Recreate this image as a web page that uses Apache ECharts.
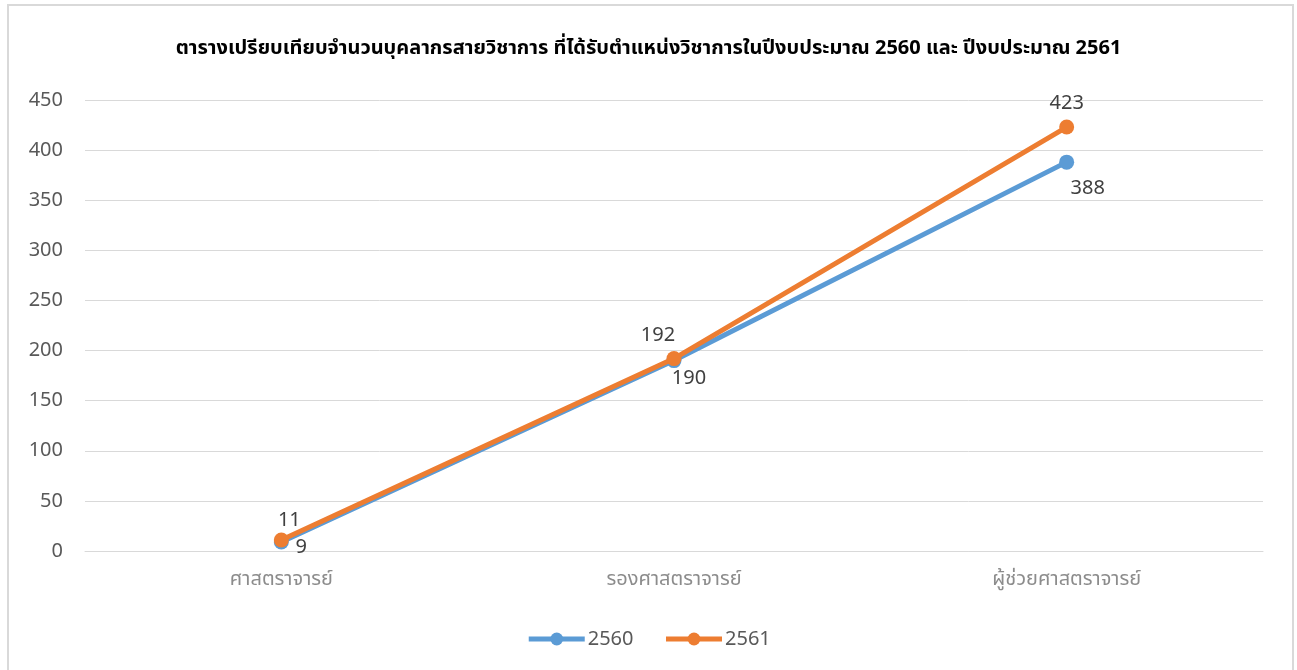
<!DOCTYPE html>
<html>
<head>
<meta charset="utf-8">
<script src="https://cdn.jsdelivr.net/npm/echarts@6/dist/echarts.min.js"></script>
<style>
html,body{margin:0;padding:0;background:#fff;}
#chart{width:1297px;height:670px;}
</style>
</head>
<body>
<div id="chart"></div>
<script>
var titleText = 'ตารางเปรียบเทียบจำนวนบุคลากรสายวิชาการ ที่ได้รับตำแหน่งวิชาการในปีงบประมาณ 2560 และ ปีงบประมาณ 2561';
var categories = ['ศาสตราจารย์', 'รองศาสตราจารย์', 'ผู้ช่วยศาสตราจารย์'];
var seriesNames = ['2560', '2561'];
var values2560 = [9, 190, 388];
var values2561 = [11, 192, 423];

// label placement style (not data)
var labelOffsets2560 = [[20, 5], [15, 18], [21, 26]];
var labelOffsets2561 = [[8, 4], [-16, 0], [0, 0]];

var FONT = '"Noto Sans", "Noto Sans Thai", "Leelawadee UI", Tahoma, "DejaVu Sans", sans-serif';

var data2560 = values2560.map(function (v, i) {
  return {value: v, label: {offset: labelOffsets2560[i]}};
});
var data2561 = values2561.map(function (v, i) {
  return {value: v, label: {offset: labelOffsets2561[i]}};
});

var chart = echarts.init(document.getElementById('chart'));
chart.setOption({
  backgroundColor: '#fff',
  animation: false,
  textStyle: {fontFamily: FONT},
  title: {
    text: titleText,
    left: 'center',
    top: 33,
    textStyle: {fontSize: 20, fontWeight: 'bold', color: '#000', fontFamily: FONT}
  },
  graphic: [{
    type: 'rect',
    shape: {x: 8, y: 5, width: 1285, height: 700},
    style: {fill: 'none', stroke: '#d9d9d9', lineWidth: 2},
    silent: true
  }],
  legend: {
    top: 624,
    left: 'center',
    itemWidth: 56,
    itemHeight: 16,
    itemGap: 30,
    lineStyle: {width: 5},
    textStyle: {fontSize: 20, color: '#595959', fontFamily: FONT, padding: [0, 0, 0, -2]},
    data: seriesNames
  },
  grid: {left: 85, right: 34, top: 100, bottom: 119, containLabel: false},
  xAxis: {
    type: 'category',
    data: categories,
    boundaryGap: true,
    axisLine: {lineStyle: {color: '#d9d9d9', width: 1}},
    axisTick: {show: false},
    axisLabel: {fontSize: 20, color: '#8c8c8c', margin: 18, fontFamily: FONT}
  },
  yAxis: {
    type: 'value',
    min: 0, max: 450, interval: 50,
    axisLine: {show: false},
    axisTick: {show: false},
    splitLine: {lineStyle: {color: '#d9d9d9', width: 1}},
    axisLabel: {fontSize: 20, color: '#595959', margin: 22, fontFamily: FONT}
  },
  series: [{
    name: seriesNames[0],
    type: 'line',
    data: data2560,
    color: '#5B9BD5',
    symbol: 'circle',
    symbolSize: 15,
    lineStyle: {width: 5, color: '#5B9BD5'},
    itemStyle: {color: '#5B9BD5'},
    label: {show: true, position: 'inside', fontSize: 20, color: '#404040', fontFamily: FONT},
    z: 2
  }, {
    name: seriesNames[1],
    type: 'line',
    data: data2561,
    color: '#ED7D31',
    symbol: 'circle',
    symbolSize: 15,
    lineStyle: {width: 5, color: '#ED7D31'},
    itemStyle: {color: '#ED7D31'},
    label: {show: true, position: 'top', distance: 6, fontSize: 20, color: '#404040', fontFamily: FONT},
    z: 3
  }]
});
</script>
</body>
</html>
